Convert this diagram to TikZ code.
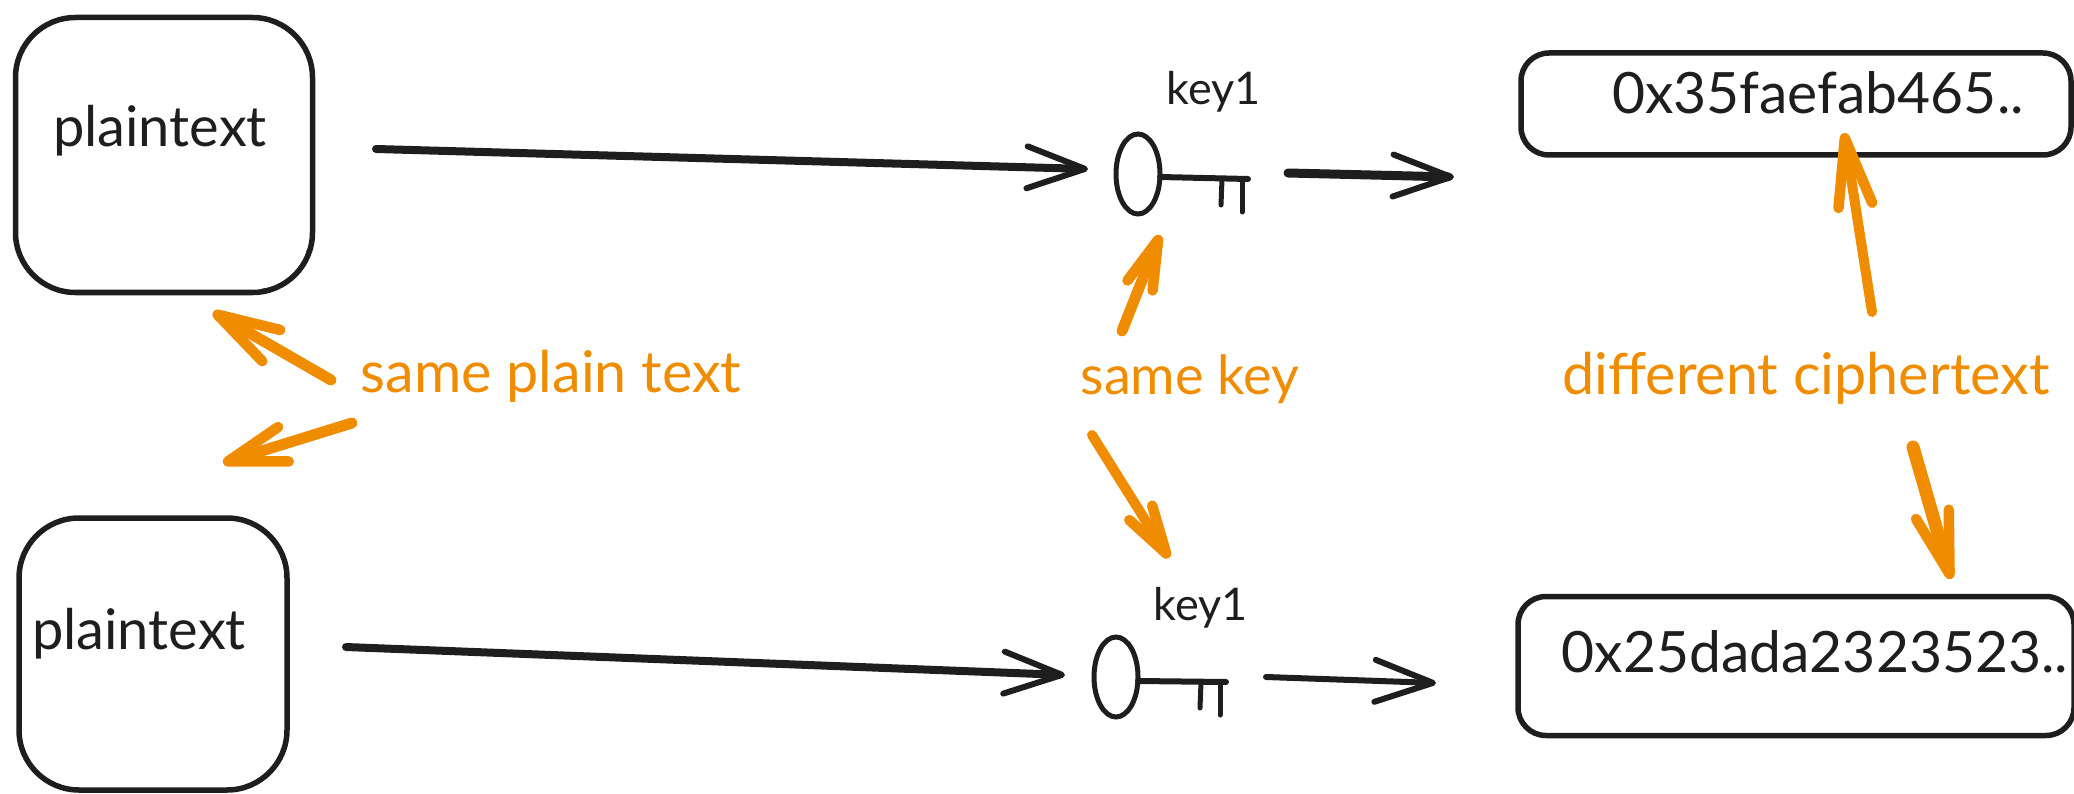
\documentclass[tikz,border=0pt]{standalone}
\usepackage{fontspec}
\setmainfont{Lato}
\usetikzlibrary{arrows.meta,shapes.geometric}
\definecolor{ink}{HTML}{1E1E1E}
\definecolor{accent}{HTML}{F08C00}
\tikzset{
  x=1pt,y=-1pt,
  box/.style={draw=ink,line width=5.5pt,rounded corners=60pt,inner sep=0pt},
  cipherbox/.style={draw=ink,line width=5.5pt,rounded corners=28pt,inner sep=0pt},
  hand/.style={text=ink,inner sep=0pt,font=\fontsize{56}{56}\selectfont},
  cipher/.style={text=ink,inner sep=0pt,font=\fontsize{57}{57}\selectfont},
  keylabel/.style={text=ink,inner sep=0pt,font=\fontsize{45}{45}\selectfont},
  note/.style={text=accent,inner sep=0pt,font=\fontsize{57.5}{58}\selectfont},
  keyhead/.style={ellipse,draw=ink,line width=5pt,minimum width=44pt,minimum height=80pt,inner sep=0pt},
  keypart/.style={draw=ink,line width=5pt,line cap=round},
  keyshaft/.style={draw=ink,line width=6pt,line cap=round},
  flow/.style={draw=ink,line width=#1,line cap=round,-{Straight Barb[length=58pt,width=42pt,line width=6pt,round]}},
  callout/.style n args={3}{draw=accent,line width=#1,line cap=round,-{Straight Barb[length=#2,width=#3,line width=10.5pt,round]}},
}
\begin{document}
\begin{tikzpicture}
\useasboundingbox (0,0) rectangle (2074,794);
% boxes
\node[box,minimum width=297pt,minimum height=275pt] (p1) at (164,155) {};
\draw[ink,line width=2.5pt,line cap=round] (308,250) .. controls (304,272) and (285,287) .. (262,290);
\node[box,minimum width=268pt,minimum height=272pt] (p2) at (153,654) {};
\node[cipherbox,minimum width=550pt,minimum height=102pt] (c1) at (1796,104) {};
\node[cipherbox,minimum width=556pt,minimum height=139pt] (c2) at (1796,666) {};
% box labels
\node[hand] (p1t) at (160,131) {plaintext};
\node[hand] (p2t) at (139,634) {plaintext};
\node[cipher] (c1t) at (1818,93) {0x35faefab465..};
\node[cipher] (c2t) at (1815,652) {0x25dada2323523..};
% key 1
\node[keyhead] (k1) at (1138,174) {};
\coordinate (k1s) at (1160,177);
\coordinate (k1e) at (1248,179);
\coordinate (k1a) at (1222,179);
\coordinate (k1b) at (1221,205);
\coordinate (k1d) at (1242,179);
\coordinate (k1c) at (1242,212);
\draw[keyshaft] (k1s) -- (k1e);
\draw[keypart] (k1a) -- (k1b);
\draw[keypart] (k1d) -- (k1c);
\node[keylabel] (k1t) at (1214,92) {key1};
% key 2
\node[keyhead] (k2) at (1116,677) {};
\coordinate (k2s) at (1138,681);
\coordinate (k2e) at (1226,682);
\coordinate (k2a) at (1201,682);
\coordinate (k2b) at (1200,708);
\coordinate (k2d) at (1220,682);
\coordinate (k2c) at (1220,715);
\draw[keyshaft] (k2s) -- (k2e);
\draw[keypart] (k2a) -- (k2b);
\draw[keypart] (k2d) -- (k2c);
\node[keylabel] (k2t) at (1201,608) {key1};
% notes
\node[note] (n1) at (551,376) {same plain text};
\node[note,font=\fontsize{54}{54}\selectfont] (n2) at (1190,379) {same key};
\node[note] (n3) at (1806,378) {different ciphertext};
% free ends of connectors
\coordinate (a1s) at (376,149);
\coordinate (a1e) at (1088,169);
\coordinate (a2s) at (1288,173);
\coordinate (a2e) at (1454,177);
\coordinate (a3s) at (346,647);
\coordinate (a3e) at (1065,675);
\coordinate (a4s) at (1266,677);
\coordinate (a4e) at (1436,683);
\coordinate (o1s) at (331,380);
\coordinate (o1e) at (213,312);
\coordinate (o2s) at (352,423);
\coordinate (o2e) at (223,463);
\coordinate (o3s) at (1122,331);
\coordinate (o3e) at (1160,235);
\coordinate (o4s) at (1092,435);
\coordinate (o4e) at (1169,558);
\coordinate (o5s) at (1872,312);
\coordinate (o5e) at (1844,133);
\coordinate (o6s) at (1913,447);
\coordinate (o6e) at (1951,579);
% connectors
\draw[flow=8pt] (a1s) -- (a1e);
\draw[flow=9pt] (a2s) -- (a2e);
\draw[flow=8pt] (a3s) -- (a3e);
\draw[flow=6pt] (a4s) -- (a4e);
\draw[callout={11pt}{62pt}{36pt}] (o1s) -- (o1e);
\draw[callout={11pt}{58pt}{36pt}] (o2s) -- (o2e);
\draw[callout={11pt}{49pt}{27pt}] (o3s) -- (o3e);
\draw[callout={10pt}{48pt}{27pt}] (o4s) -- (o4e);
\draw[callout={10pt}{68pt}{34pt}] (o5s) -- (o5e);
\draw[callout={13pt}{62pt}{34pt}] (o6s) -- (o6e);
\end{tikzpicture}
\end{document}
